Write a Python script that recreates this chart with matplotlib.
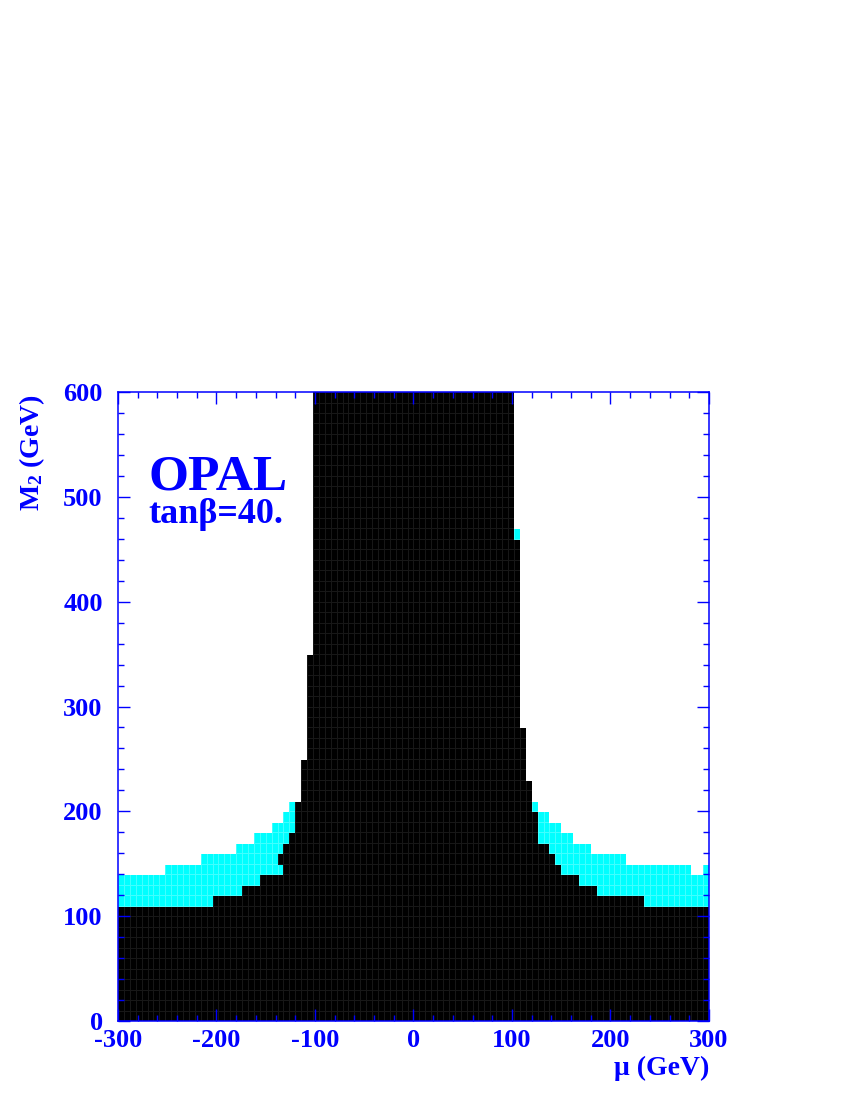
import matplotlib
matplotlib.use("Agg")
import matplotlib.pyplot as plt
import numpy as np
from matplotlib.colors import ListedColormap
from matplotlib.ticker import MultipleLocator

################################################################################
#  Scan grid: 6 GeV bins in mu, 10 GeV bins in M2
################################################################################

mu_edges = np.arange(-300, 301, 6)
m2_edges = np.arange(0, 601, 10)

# upper edge (GeV) of the black (excluded) region in each mu column
black_top = [
    110, 110, 110, 110, 110, 110, 110, 110, 110, 110,
    110, 110, 110, 110, 110, 110, 120, 120, 120, 120,
    120, 130, 130, 130, 140, 140, 140, 140, 170, 180,
    210, 250, 350, 600, 600, 600, 600, 600, 600, 600,
    600, 600, 600, 600, 600, 600, 600, 600, 600, 600,
    600, 600, 600, 600, 600, 600, 600, 600, 600, 600,
    600, 600, 600, 600, 600, 600, 600, 460, 280, 230,
    200, 170, 170, 160, 150, 140, 140, 140, 130, 130,
    130, 120, 120, 120, 120, 120, 120, 120, 120, 110,
    110, 110, 110, 110, 110, 110, 110, 110, 110, 110,
]

# upper edge (GeV) of the cyan region in each mu column (0 = none)
cyan_top = [
    140, 140, 140, 140, 140, 140, 140, 140, 150, 150,
    150, 150, 150, 150, 160, 160, 160, 160, 160, 160,
    170, 170, 170, 180, 180, 180, 190, 190, 200, 210,
    0, 0, 0, 0, 0, 0, 0, 0, 0, 0,
    0, 0, 0, 0, 0, 0, 0, 0, 0, 0,
    0, 0, 0, 0, 0, 0, 0, 0, 0, 0,
    0, 0, 0, 0, 0, 0, 0, 470, 0, 0,
    210, 200, 200, 190, 190, 180, 180, 170, 170, 170,
    160, 160, 160, 160, 160, 160, 150, 150, 150, 150,
    150, 150, 150, 150, 150, 150, 150, 140, 140, 150,
]

# isolated black cells (lower-left corner in mu, M2)
extra_black = [(-138, 150)]

x_ticks = [-300, -200, -100, 0, 100, 200, 300]
y_ticks = [0, 100, 200, 300, 400, 500, 600]

BLUE = "#0000ff"

plt.rcParams["font.family"] = ["Liberation Serif", "DejaVu Serif"]
plt.rcParams["font.weight"] = "bold"
plt.rcParams["mathtext.default"] = "regular"

# 0 = white, 1 = cyan, 2 = black
m2_low = m2_edges[:-1]
state = np.zeros((len(m2_low), len(black_top)), dtype=int)
for k in range(len(black_top)):
    state[m2_low < cyan_top[k], k] = 1
    state[m2_low < black_top[k], k] = 2
for mu, m2 in extra_black:
    state[np.searchsorted(m2_edges, m2), np.searchsorted(mu_edges, mu)] = 2

fig = plt.figure(figsize=(8.5, 11), dpi=100)
ax = fig.add_axes([0.1388, 0.0718, 0.6953, 0.5718])

mesh = ax.pcolormesh(mu_edges, m2_edges, state,
                     cmap=ListedColormap(["white", "#00ffff", "black"]),
                     vmin=-0.5, vmax=2.5, linewidth=0.5)
# faint cell borders, none in the white area
edge_palette = np.array([(1, 1, 1, 0), (0.25, 1, 1, 1), (0.09, 0.09, 0.09, 1)])
mesh.set_edgecolor(edge_palette[state.ravel()])

ax.set_xlim(-300, 300)
ax.set_ylim(0, 600)
ax.set_xticks(x_ticks)
ax.set_yticks(y_ticks)
ax.set_xticklabels([str(v) for v in x_ticks])
ax.set_yticklabels([str(v) for v in y_ticks])
ax.xaxis.set_minor_locator(MultipleLocator(20))
ax.yaxis.set_minor_locator(MultipleLocator(20))
ax.tick_params(which="both", direction="in", top=True, right=True,
               color=BLUE, labelcolor=BLUE, labelsize=19, width=1)
ax.tick_params(which="major", length=8.5)
ax.tick_params(which="minor", length=4.3)
ax.tick_params(axis="y", pad=11)
ax.tick_params(axis="x", pad=6)
for spine in ax.spines.values():
    spine.set_color(BLUE)
    spine.set_linewidth(1.1)

ax.text(-0.1455, 0.997, "M$_2$ (GeV)", transform=ax.transAxes, rotation=90,
        ha="center", va="top", color=BLUE, fontsize=20)
ax.text(1.0, -0.086, "\u03bc (GeV)", transform=ax.transAxes,
        ha="right", va="baseline", color=BLUE, fontsize=20)

ax.text(0.052, 0.845, "OPAL", transform=ax.transAxes,
        va="baseline", color=BLUE, fontsize=37)
ax.text(0.052, 0.791, "tan\u03b2=40.", transform=ax.transAxes,
        va="baseline", color=BLUE, fontsize=26)

fig.savefig("out.png", dpi=100)
